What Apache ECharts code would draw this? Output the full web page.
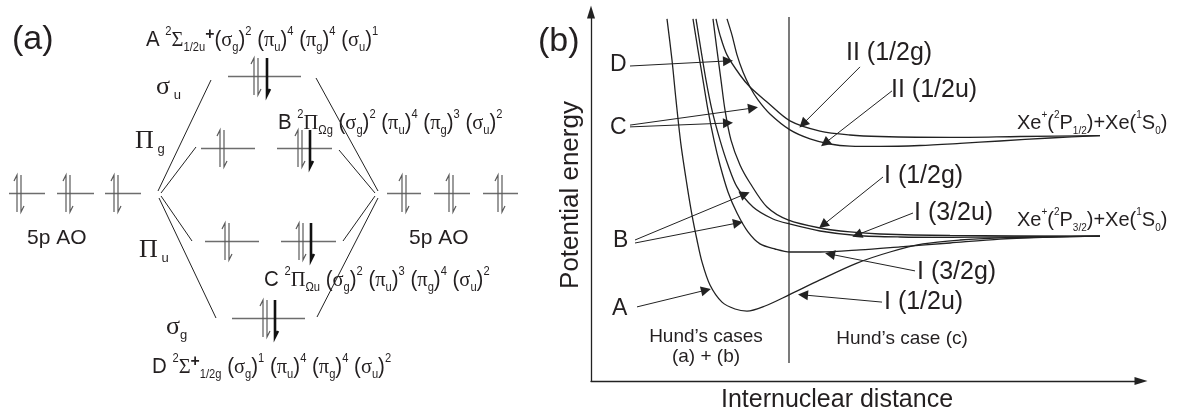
<!DOCTYPE html>
<html><head><meta charset="utf-8">
<script src="https://cdn.jsdelivr.net/npm/echarts@6/dist/echarts.min.js"></script>
<style>html,body{margin:0;padding:0;background:#fff}#c{width:1183px;height:412px}</style>
</head><body><div id="c"></div>
<script>
// ===== Panel (b): potential curves (x: internuclear distance, y: potential energy; arbitrary units)
const curveI12u  = [[15.2,120.7],[16.2,107],[17.0,93.7],[18.0,78.7],[19.2,65.3],[20.2,55.3],[21.2,47],[22.2,39.7],[23.8,32],[26.2,26.3],[28.8,24],[31.2,23.3],[34.8,25],[39.6,28.7],[45.8,33.7],[53.2,39.3],[59.8,43],[66.4,45.7],[73.8,47],[81.8,47.7],[91.8,48],[101.8,48.3]];
const curveI32g  = [[20.4,120.7],[21.4,110.3],[22.4,100.3],[23.4,90.3],[24.6,80.3],[25.8,72],[27.4,63],[29.2,56],[31.4,49.7],[33.8,45.7],[36.8,44],[39.8,43],[45.8,43],[53.8,43.7],[61.8,44.7],[71.8,46],[81.8,47.3],[91.8,48],[101.8,48.3]];
const curveI32u  = [[21,120.7],[22,110.3],[23,100.3],[24.2,90.3],[25.8,80.3],[27.4,72],[29.2,64.7],[32.4,58],[36.4,54],[39.8,52.3],[45.8,50],[53.2,48.5],[61.8,48],[71.8,47.9],[81.8,48],[101.8,48.3]];
const curveI12g  = [[24.4,120.7],[25.2,110.3],[26,100.3],[26.8,90.3],[28,80.3],[29.8,72],[31.8,66],[35.2,58],[39.4,53.7],[45.8,51],[51.8,49.7],[57.8,49],[71.8,48.5],[101.8,48.3]];
const curveII12g = [[25,120.7],[25.8,115.3],[27.2,108.7],[29.8,102],[31.8,98],[35.2,93],[39.8,86.7],[45.8,83.3],[51.8,82],[57.8,81.5],[71.8,81.2],[85.8,81.5],[101.8,81.8]];
const curveII12u = [[27.2,120.7],[28.2,115.3],[29.2,108.7],[30.4,103],[31.8,98],[33.4,93.7],[35.8,89],[39.8,83.7],[43.8,80.7],[47.8,79],[51.8,78.3],[57.8,78.2],[65.8,78.5],[73.8,79.2],[81.8,80],[91.8,81],[101.8,81.8]];
const hundBoundary = [[39.6,6],[39.6,121.3]];
// annotation arrows [from, to]
const stateArrows = [
  [[7.8,105],[27.4,106.7]],                 // D
  [[7.8,85.3],[32.4,91]], [[7.8,84.7],[27.4,86]],   // C
  [[8.8,47],[30.8,62.3]], [[8.8,46],[29.4,52.7]],   // B
  [[9.2,24.7],[23,30.3]],                   // A
  [[53.8,104.7],[42.4,85.7]],               // II (1/2g)
  [[60.2,96.7],[46.8,79.3]],                // II (1/2u)
  [[58.4,68],[46.4,52]],                    // I (1/2g)
  [[64.4,56],[53.2,48.7]],                  // I (3/2u)
  [[64.8,36.7],[47.8,42.3]],                // I (3/2g)
  [[58.2,26.3],[42.4,28.7]]                 // I (1/2u)
];

// ===== Panel (a): MO diagram (x: position, y: orbital energy; arbitrary units)
// [energy, xStart, xEnd]
const orbitalLevels = [
  [54.75,1.8,9],[54.75,11.4,18.8],[54.75,21,28.2],
  [54.75,77.4,84.2],[54.75,86.8,94],[54.75,96.6,103.6],
  [84,45.6,60.2],
  [66,40.2,51],[66,55.4,66.4],
  [42.75,41,51.8],[42.75,56.2,67.2],
  [23.5,46.4,61]
];
// [energy, x, spin(+1 up / -1 down), bold]
const electrons = [
  [54.75,3.4,1,0],[54.75,4.2,-1,0],[54.75,13.2,1,0],[54.75,14.0,-1,0],[54.75,22.8,1,0],[54.75,23.6,-1,0],
  [54.75,80.4,1,0],[54.75,81.2,-1,0],[54.75,89.8,1,0],[54.75,90.6,-1,0],[54.75,99.6,1,0],[54.75,100.4,-1,0],
  [84,50.8,1,0],[84,51.6,-1,0],[84,53.4,-1,1],
  [66,44,1,0],[66,44.8,-1,0],[66,59.6,1,0],[66,60.4,-1,0],[66,62,-1,1],
  [42.75,45,1,0],[42.75,45.8,-1,0],[42.75,59.8,1,0],[42.75,60.6,-1,0],[42.75,62.2,-1,1],
  [23.5,52.6,1,0],[23.5,53.4,-1,0],[23.5,55,-1,1]
];
const correlationLines = [
  [[31.6,55.25],[42.2,83]],[[32.2,54.75],[39.2,66.25]],[[32.2,54],[38.4,42.75]],[[31.8,53.5],[43.2,23.5]],
  [[63.2,83.5],[75.6,55.25]],[[67.8,65.5],[75,54.75]],[[68.6,42.75],[75,54]],[[63.4,23.75],[75.6,53.5]]
];

const INK = '#231f20';
const SANS = '"Liberation Sans", Arial, sans-serif';
const SERIF = '"Liberation Serif", "Times New Roman", serif';

function electronPath(e){
  const E=e[0], x=e[1], up=e[2]>0, lo=E-4.75, hi=E+4.5;
  return up ? [[x,lo],[x,hi],[x-0.6,hi-1.5]] : [[x,hi],[x,lo],[x+0.6,lo+1.5]];
}

const richMol = {
  m:{fontFamily:SANS,fontSize:22,lineHeight:28,fill:INK},
  G:{fontFamily:SERIF,fontSize:22,lineHeight:28,fill:INK},
  s:{fontFamily:SANS,fontSize:12,lineHeight:15,verticalAlign:'top',fill:INK},
  b:{fontFamily:SANS,fontSize:12,lineHeight:14,verticalAlign:'bottom',fill:INK},
  p:{fontFamily:SANS,fontSize:17,fontWeight:'bold',lineHeight:15,verticalAlign:'top',fill:INK}
};
function orb(l,sub,sup){return '{m|(}{G|'+l+'}{b|'+sub+'}{m|)}{s|'+sup+'}';}
const labA = '{m|A }{s|2}{G|Σ}{b|1/2u}{p|+}'+orb('σ','g','2')+'{m| }'+orb('π','u','4')+'{m| }'+orb('π','g','4')+'{m| }'+orb('σ','u','1');
const labB = '{m|B }{s|2}{G|Π}{b|Ωg}{m| }'+orb('σ','g','2')+'{m| }'+orb('π','u','4')+'{m| }'+orb('π','g','3')+'{m| }'+orb('σ','u','2');
const labC = '{m|C }{s|2}{G|Π}{b|Ωu}{m| }'+orb('σ','g','2')+'{m| }'+orb('π','u','3')+'{m| }'+orb('π','g','4')+'{m| }'+orb('σ','u','2');
const labD = '{m|D }{s|2}{G|Σ}{p|+}{b|1/2g}{m| }'+orb('σ','g','1')+'{m| }'+orb('π','u','4')+'{m| }'+orb('π','g','4')+'{m| }'+orb('σ','u','2');

const richXe = {
  x:{fontFamily:SANS,fontSize:20,lineHeight:26,fill:INK},
  s:{fontFamily:SANS,fontSize:10,lineHeight:13,verticalAlign:'top',fill:INK},
  b:{fontFamily:SANS,fontSize:10,lineHeight:12,verticalAlign:'bottom',fill:INK}
};
const xeUpper = '{x|Xe}{s|+}{x|(}{s|2}{x|P}{b|1/2}{x|)+Xe(}{s|1}{x|S}{b|0}{x|)}';
const xeLower = '{x|Xe}{s|+}{x|(}{s|2}{x|P}{b|3/2}{x|)+Xe(}{s|1}{x|S}{b|0}{x|)}';

const richOrb = {
  G:{fontFamily:SERIF,fontSize:26,lineHeight:30,fill:INK},
  b:{fontFamily:SANS,fontSize:13,lineHeight:14,verticalAlign:'bottom',fill:INK}
};

function txt(x,y,text,size,opt){
  opt=opt||{};
  return {type:'text',x:x,y:y,rotation:opt.rot||0,scaleX:opt.sx||1,z:100,silent:true,
    style:{text:text,fill:INK,fontFamily:SANS,fontSize:size,align:opt.align||'left',verticalAlign:'middle',rich:opt.rich}};
}

const chart = echarts.init(document.getElementById('c'),null,{renderer:'canvas'});
const hiddenAxis = {show:false};
const curveStyle = {color:'#222',width:1.3};
function curve(d){return {type:'line',xAxisIndex:1,yAxisIndex:1,data:d,showSymbol:false,symbol:'none',smooth:0.3,lineStyle:curveStyle,silent:true};}

chart.setOption({
  animation:false,
  backgroundColor:'#fff',
  grid:[{left:0,top:0,width:520,height:412},{left:591,top:12,width:550,height:369}],
  xAxis:[
    Object.assign({gridIndex:0,type:'value',min:0,max:104},hiddenAxis),
    {gridIndex:1,type:'value',min:0,max:110,axisLine:{show:true,onZero:false,symbol:['none','triangle'],symbolSize:[8,13],lineStyle:{color:'#222',width:1.3}},axisTick:{show:false},axisLabel:{show:false},splitLine:{show:false}}
  ],
  yAxis:[
    Object.assign({gridIndex:0,type:'value',min:0,max:103},hiddenAxis),
    {gridIndex:1,type:'value',min:0,max:123,axisLine:{show:true,onZero:false,symbol:['none','triangle'],symbolSize:[8,13],lineStyle:{color:'#222',width:1.3}},axisTick:{show:false},axisLabel:{show:false},splitLine:{show:false}}
  ],
  series:[
    {type:'lines',coordinateSystem:'cartesian2d',xAxisIndex:0,yAxisIndex:0,silent:true,
     data:orbitalLevels.map(l=>({coords:[[l[1],l[0]],[l[2],l[0]]]})),lineStyle:{color:'#6d6d6d',width:1.4,opacity:1}},
    {type:'lines',coordinateSystem:'cartesian2d',xAxisIndex:0,yAxisIndex:0,silent:true,polyline:true,
     data:electrons.filter(e=>!e[3]).map(e=>({coords:electronPath(e)})),lineStyle:{color:'#5a5a5a',width:1.2,opacity:1}},
    {type:'lines',coordinateSystem:'cartesian2d',xAxisIndex:0,yAxisIndex:0,silent:true,polyline:true,
     data:electrons.filter(e=>e[3]).map(e=>({coords:electronPath(e)})),lineStyle:{color:'#111',width:2.6,opacity:1}},
    {type:'lines',coordinateSystem:'cartesian2d',xAxisIndex:0,yAxisIndex:0,silent:true,
     data:correlationLines.map(c=>({coords:c})),lineStyle:{color:'#222',width:1,opacity:1}},
    curve(curveI12u),curve(curveI32g),curve(curveI32u),curve(curveI12g),curve(curveII12g),curve(curveII12u),
    {type:'line',xAxisIndex:1,yAxisIndex:1,data:hundBoundary,showSymbol:false,symbol:'none',lineStyle:{color:'#222',width:1.2},silent:true},
    {type:'lines',coordinateSystem:'cartesian2d',xAxisIndex:1,yAxisIndex:1,silent:true,
     data:stateArrows.map(c=>({coords:c})),symbol:['none','triangle'],symbolSize:[6,10],lineStyle:{color:'#222',width:1,opacity:1}}
  ],
  graphic:[
    txt(12,40,'(a)',34),
    txt(538,42,'(b)',34),
    txt(146,40,labA,22,{rich:richMol,sx:0.93}),
    txt(278,123,labB,22,{rich:richMol,sx:0.93}),
    txt(264,280,labC,22,{rich:richMol,sx:0.93}),
    txt(152,367,labD,22,{rich:richMol,sx:0.93}),
    txt(156,87,'{G|σ}{b| u}',26,{rich:richOrb}),
    txt(135,141,'{G|Π}{b| g}',26,{rich:richOrb}),
    txt(139,250,'{G|Π}{b| u}',26,{rich:richOrb}),
    txt(166,327,'{G|σ}{b|g}',26,{rich:richOrb}),
    txt(27,238,'5p AO',21),
    txt(409,238,'5p AO',21),
    txt(571,195,'Potential energy',26,{rot:Math.PI/2,align:'center'}),
    txt(837,400,'Internuclear distance',25,{align:'center'}),
    txt(706,337,'Hund’s cases',19,{align:'center'}),
    txt(706,357,'(a) + (b)',19,{align:'center'}),
    txt(902,339,'Hund’s case (c)',19,{align:'center'}),
    txt(610,65,'D',23), txt(610,128,'C',23), txt(613,241,'B',23), txt(612,309,'A',23),
    txt(846,53,'II (1/2g)',25), txt(891,90,'II (1/2u)',25),
    txt(884,176,'I (1/2g)',25), txt(914,213,'I (3/2u)',25),
    txt(917,272,'I (3/2g)',25), txt(884,302,'I (1/2u)',25),
    txt(1017,123,xeUpper,20,{rich:richXe}),
    txt(1017,220,xeLower,20,{rich:richXe})
  ]
});
</script></body></html>
